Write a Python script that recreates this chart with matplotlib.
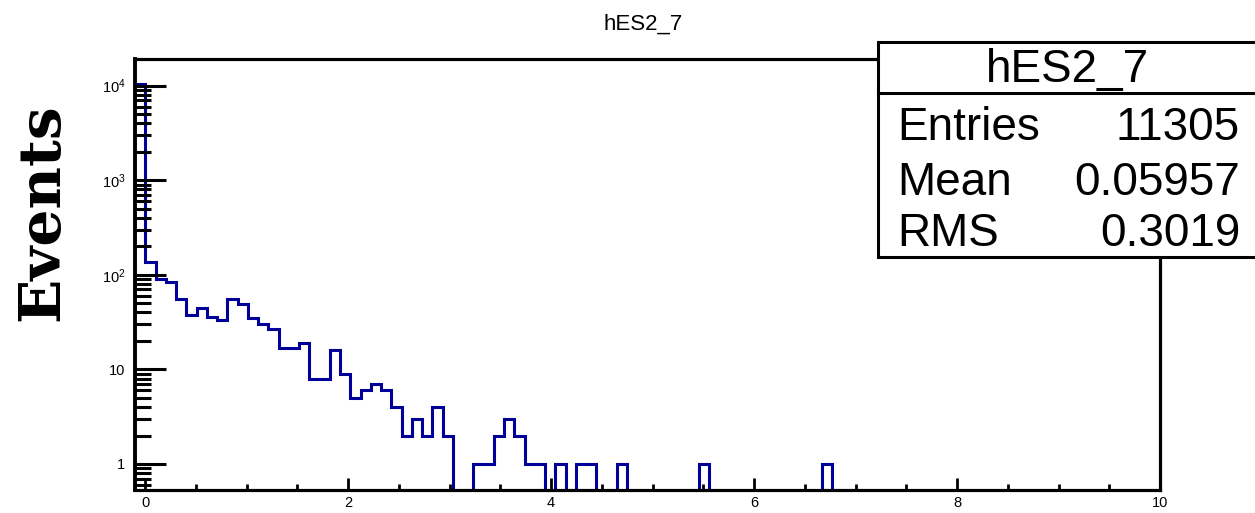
import numpy as np
import matplotlib
matplotlib.use("Agg")
import matplotlib.pyplot as plt
from matplotlib.patches import Rectangle
from matplotlib.lines import Line2D
from matplotlib.ticker import LogLocator, FixedLocator, MultipleLocator, NullFormatter, FixedFormatter

plt.rcParams['font.family'] = ['Liberation Sans', 'DejaVu Sans']
plt.rcParams['mathtext.fontset'] = 'custom'
plt.rcParams['mathtext.rm'] = 'Liberation Sans'
plt.rcParams['mathtext.it'] = 'Liberation Sans:italic'
plt.rcParams['mathtext.bf'] = 'Liberation Sans:bold'

# ---------------- data ----------------
hist_name = "hES2_7"
x_min, x_max, n_bins = -0.1, 10.0, 100
counts = [10437, 138, 91, 83, 56, 38, 45, 36, 33, 55,
          49, 35, 30, 27, 17, 17, 19, 8, 8, 16,
          9, 5, 6, 7, 6, 4, 2, 3, 2, 4,
          2, 0, 0, 1, 1, 2, 3, 2, 1, 1,
          0, 1, 0, 1, 1, 0, 0, 1, 0, 0,
          0, 0, 0, 0, 0, 1, 0, 0, 0, 0,
          0, 0, 0, 0, 0, 0, 0, 1, 0, 0,
          0, 0, 0, 0, 0, 0, 0, 0, 0, 0,
          0, 0, 0, 0, 0, 0, 0, 0, 0, 0,
          0, 0, 0, 0, 0, 0, 0, 0, 0, 0]
y_tick_values = [1, 10, 100, 1000, 10000]
y_tick_labels = ['1', '10', r'$10^{2}$', r'$10^{3}$', r'$10^{4}$']
x_tick_values = [0, 2, 4, 6, 8, 10]
x_tick_labels = ['0', '2', '4', '6', '8', '10']
stat_names = ['Entries', 'Mean', 'RMS']
stat_values = ['11305', '0.05957', '0.3019']
y_label = 'Events'

# ---------------- figure ----------------
W, H = 1255, 513
fig = plt.figure(figsize=(W / 100, H / 100), dpi=100)
fig.patch.set_facecolor('white')

def fx(px):
    return px / W

def fy(py):
    return 1 - py / H

ax_l, ax_r, ax_t, ax_b = 135, 1160, 59, 490
ax = fig.add_axes([fx(ax_l), fy(ax_b), fx(ax_r - ax_l), (ax_b - ax_t) / H])

edges = np.linspace(x_min, x_max, n_bins + 1)
ax.stairs(np.array(counts, dtype=float), edges, color='#000099', lw=2.2, baseline=None)

ax.set_yscale('log')
ax.set_xlim(x_min, x_max)
ax.set_ylim(0.531, 19100)

for s in ax.spines.values():
    s.set_linewidth(2.3)
    s.set_color('black')
ax.spines['left'].set_linewidth(2.8)

ax.yaxis.set_major_locator(FixedLocator(y_tick_values))
ax.yaxis.set_major_formatter(FixedFormatter(y_tick_labels))
ax.yaxis.set_minor_locator(LogLocator(base=10, subs=np.arange(2, 10), numticks=20))
ax.yaxis.set_minor_formatter(NullFormatter())

ax.xaxis.set_major_locator(FixedLocator(x_tick_values))
ax.xaxis.set_major_formatter(FixedFormatter(x_tick_labels))
ax.xaxis.set_minor_locator(MultipleLocator(0.5))

ax.tick_params(axis='y', which='major', direction='in', length=22, width=2.2,
               labelsize=10.5, pad=7, right=False)
ax.tick_params(axis='y', which='minor', direction='in', length=11.5, width=2.2, right=False)
ax.tick_params(axis='x', which='major', direction='in', length=8.5, width=2.0,
               labelsize=10.5, pad=4, top=False)
ax.tick_params(axis='x', which='minor', direction='in', length=4, width=2.0, top=False)

# title
fig.text(fx(643), fy(29.5), hist_name, ha='center', va='baseline', fontsize=16)

# y label
fig.text(fx(42), fy(212), y_label, rotation=90, ha='center', va='center',
         fontsize=42, fontweight='bold', family=['DejaVu Serif', 'DejaVu Sans'])

# stats box
box_l, box_r, box_t, box_b, box_sep = 878, 1258, 41.5, 256.5, 93
rect = Rectangle((fx(box_l), fy(box_b)), fx(box_r - box_l), (box_b - box_t) / H,
                 transform=fig.transFigure, facecolor='white', edgecolor='black',
                 lw=2.2, zorder=5, clip_on=False)
fig.add_artist(rect)
fig.add_artist(Line2D([fx(box_l), fx(box_r)], [fy(box_sep), fy(box_sep)],
                      transform=fig.transFigure, color='black', lw=2.2, zorder=6))
fig.text(fx(1067), fy(82), hist_name, ha='center', va='baseline', fontsize=33, zorder=7)
baselines = [140, 195, 246.5]
for name, val, b in zip(stat_names, stat_values, baselines):
    fig.text(fx(897), fy(b), name, ha='left', va='baseline', fontsize=33, zorder=7)
    fig.text(fx(1240), fy(b), val, ha='right', va='baseline', fontsize=33, zorder=7)

fig.savefig('out.png', dpi=100)
